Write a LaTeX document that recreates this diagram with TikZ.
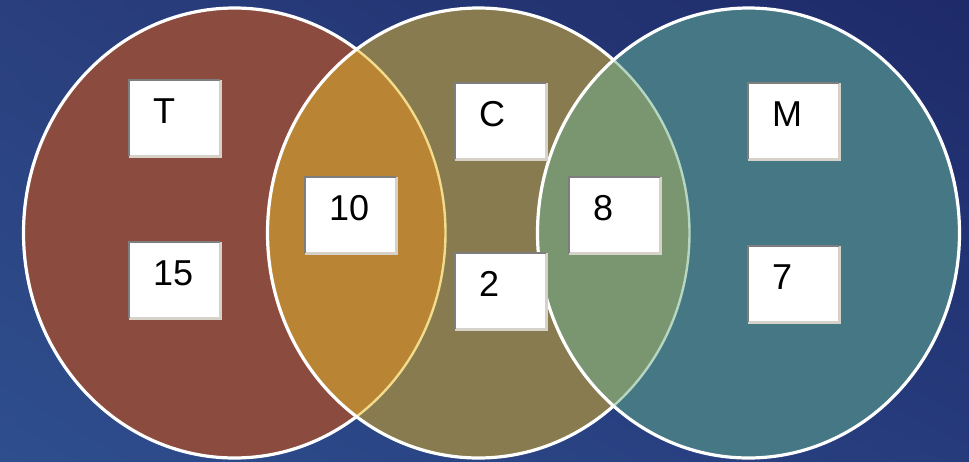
\documentclass[tikz,border=0pt]{standalone}
\usepackage{fontspec}
\setmainfont{Liberation Sans}
\usetikzlibrary{shadings}
\definecolor{bgUL}{HTML}{2A3F7E}
\definecolor{bgUR}{HTML}{1E2A69}
\definecolor{bgLL}{HTML}{2E4E8D}
\definecolor{bgLR}{HTML}{263B7C}
\definecolor{setT}{HTML}{8C4B3F}
\definecolor{setC}{HTML}{877B4F}
\definecolor{setM}{HTML}{457784}
\definecolor{setTC}{HTML}{B98535}
\definecolor{setCM}{HTML}{7A9670}
\definecolor{rimTC}{HTML}{F3DB8C}
\definecolor{rimCM}{HTML}{B5D6C0}
\definecolor{bevDark}{HTML}{7E7E7E}
\definecolor{bevLight}{HTML}{D6D2CA}
\begin{document}
\begin{tikzpicture}[x=1pt,y=-1pt,
  rim/.style={line width=3.2pt},
  softrim/.style={line width=2.4pt},
  valbox/.style={rectangle,fill=white,draw=none,inner sep=0pt,
    minimum width=91pt,minimum height=76pt,anchor=north west},
  valtext/.style={anchor=base west,inner sep=0pt,
    font=\fontsize{36}{40}\selectfont,text=black},
  bevelD/.style={bevDark,line width=2.6pt},
  bevelL/.style={bevLight,line width=2.2pt}]

\useasboundingbox (0,0) rectangle (969,461);
\shade[upper left=bgUL,upper right=bgUR,lower left=bgLL,lower right=bgLR]
  (0,0) rectangle (969,461);

% centres of the three sets
\coordinate (cT) at (234.5,233);
\coordinate (cC) at (478.5,233);
\coordinate (cM) at (748.5,233);
\def\rx{211pt}
\def\ry{225pt}

% set T
\fill[setT] (cT) ellipse [x radius=\rx,y radius=\ry];
\draw[white,rim] (cT) ellipse [x radius=\rx,y radius=\ry];

% set C and its overlap with T
\fill[setC] (cC) ellipse [x radius=\rx,y radius=\ry];
\begin{scope}
  \clip (cT) ellipse [x radius=\rx,y radius=\ry];
  \fill[setTC] (cC) ellipse [x radius=\rx,y radius=\ry];
\end{scope}
\begin{scope}
  \clip (cC) ellipse [x radius=\rx,y radius=\ry];
  \draw[rimTC,softrim] (cT) ellipse [x radius=\rx,y radius=\ry];
\end{scope}
\draw[white,rim] (cC) ellipse [x radius=\rx,y radius=\ry];

% set M and its overlap with C
\fill[setM] (cM) ellipse [x radius=\rx,y radius=\ry];
\begin{scope}
  \clip (cM) ellipse [x radius=\rx,y radius=\ry];
  \fill[setCM] (cC) ellipse [x radius=\rx,y radius=\ry];
\end{scope}
\begin{scope}
  \clip (cM) ellipse [x radius=\rx,y radius=\ry];
  \draw[rimCM,softrim] (cC) ellipse [x radius=\rx,y radius=\ry];
\end{scope}
\draw[white,rim] (cM) ellipse [x radius=\rx,y radius=\ry];

% value boxes with a sunken bevel
\foreach \nm/\px/\py in {bT/129/80, b15/129/242, b10/305/177, bC/455/83,
                         b2/455/253, b8/569/177, bM/748/83, b7/748/246}{
  \node[valbox] (\nm) at (\px,\py) {};
  \draw[bevelL] (\nm.north east) -- (\nm.south east) -- (\nm.south west);
  \draw[bevelD] (\nm.south west) -- (\nm.north west) -- (\nm.north east);
}

% labels inside the boxes
\foreach \nm/\txt in {bT/T, b15/15, b10/10, bC/C, b2/2, b8/8, bM/M, b7/7}{
  \node[valtext] (t\nm) at ([xshift=24pt,yshift=-43pt]\nm.north west) {\txt};
}
\end{tikzpicture}
\end{document}
